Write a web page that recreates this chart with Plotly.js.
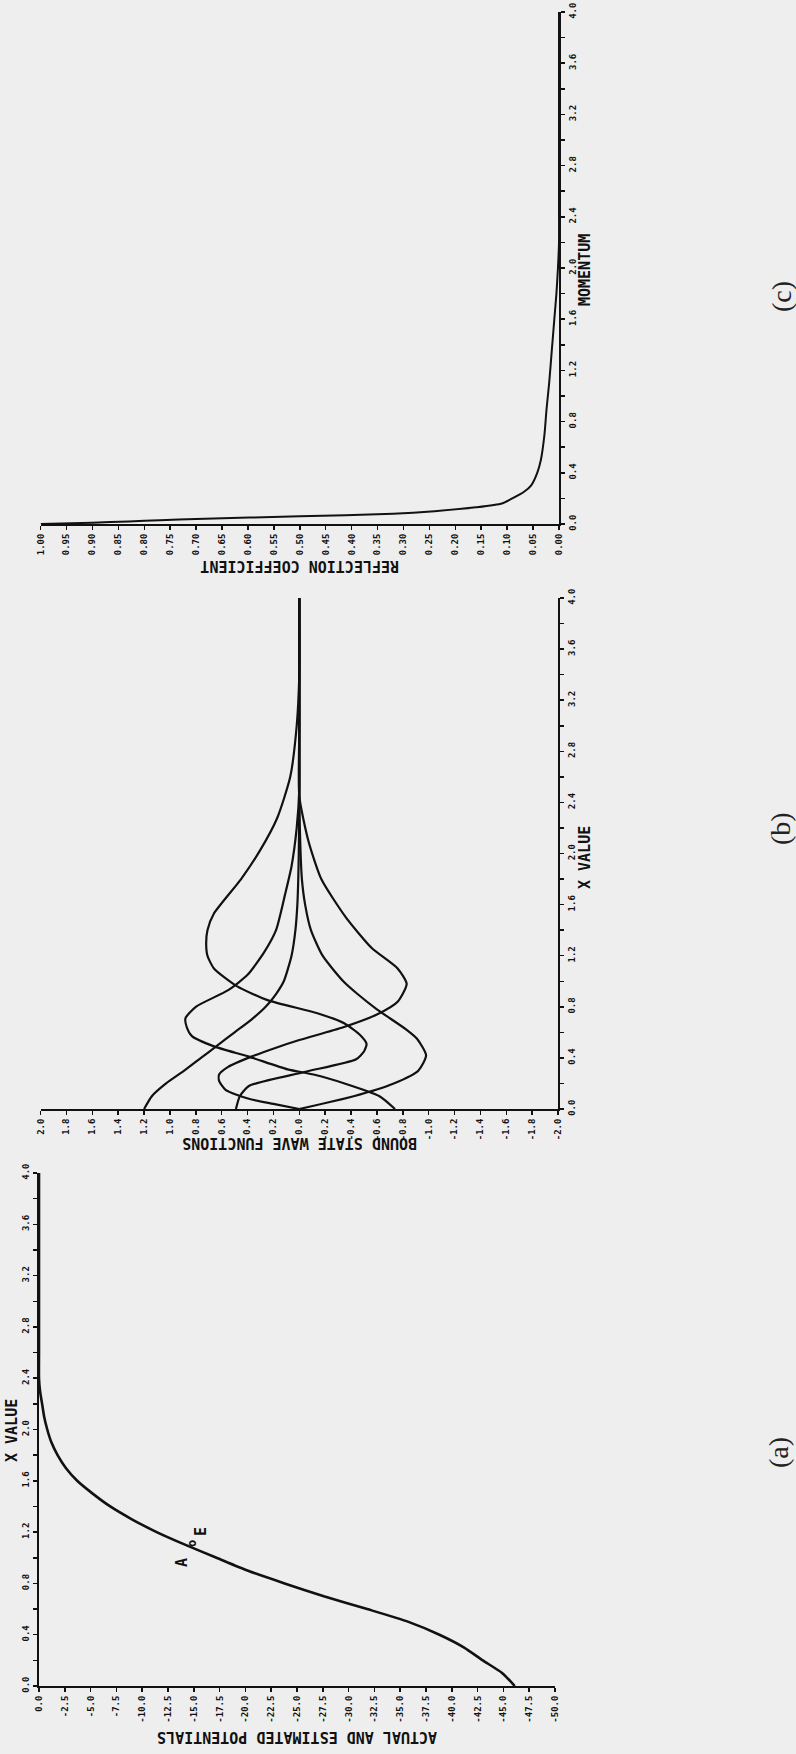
<!DOCTYPE html>
<html>
<head>
<meta charset="utf-8">
<script src="https://cdn.plot.ly/plotly-3.0.1.min.js"></script>
<style>
html,body{margin:0;padding:0;background:#eeeeee;}
#chart{width:796px;height:1754px;}
</style>
</head>
<body>
<div id="chart"></div>
<script>
// ---------- (a) actual and estimated potentials vs x ----------
const xValueA = [0,0.1,0.2,0.3,0.4,0.5,0.6,0.7,0.8,0.9,1.0,1.1,1.2,1.3,1.4,1.5,1.6,1.7,1.8,1.9,2.0,2.1,2.2,2.3,2.4,2.6,3.0,3.5,4.0];
const potentialA = [-46.1,-44.9,-43.0,-41.2,-38.8,-35.8,-31.8,-27.6,-23.8,-20.2,-17.2,-14.2,-11.4,-9.0,-6.9,-5.2,-3.7,-2.6,-1.8,-1.2,-0.8,-0.5,-0.3,-0.1,0,0,0,0,0];
const potTicks = [0,-2.5,-5,-7.5,-10,-12.5,-15,-17.5,-20,-22.5,-25,-27.5,-30,-32.5,-35,-37.5,-40,-42.5,-45,-47.5,-50];
const xTicks = [0,0.2,0.4,0.6,0.8,1.0,1.2,1.4,1.6,1.8,2.0,2.2,2.4,2.6,2.8,3.0,3.2,3.4,3.6,3.8,4.0];

// ---------- (b) bound state wave functions ----------
const xPsi0 = [0,0.1,0.2,0.3,0.4,0.5,0.6,0.7,0.8,0.9,1.0,1.2,1.4,1.6,1.8,2.0,2.4,3.0,4.0];
const psi0  = [1.2,1.14,1.03,0.89,0.76,0.63,0.5,0.37,0.26,0.18,0.12,0.06,0.03,0.015,0.008,0.004,0,0,0];
const xPsi1 = [0,0.1,0.2,0.3,0.42,0.55,0.62,0.78,0.9,1.0,1.2,1.4,1.6,1.8,2.0,2.4,3.0,4.0];
const psi1  = [0,-0.42,-0.73,-0.92,-0.98,-0.91,-0.83,-0.6,-0.45,-0.34,-0.18,-0.09,-0.045,-0.02,-0.01,0,0,0];
const xPsi2 = [0,0.1,0.2,0.27,0.31,0.41,0.49,0.57,0.64,0.71,0.8,0.93,1.05,1.23,1.4,1.68,1.9,2.2,2.5,3.0,4.0];
const psi2  = [-0.74,-0.62,-0.35,-0.11,0.09,0.39,0.66,0.83,0.87,0.88,0.8,0.55,0.4,0.27,0.18,0.11,0.06,0.02,0,0,0];
const xPsi3 = [0,0.04,0.08,0.15,0.22,0.27,0.33,0.41,0.48,0.54,0.64,0.74,0.84,0.98,1.1,1.26,1.5,1.8,2.1,2.45,3.0,4.0];
const psi3  = [0,0.2,0.39,0.57,0.62,0.62,0.55,0.37,0.18,0,-0.34,-0.6,-0.76,-0.83,-0.76,-0.56,-0.36,-0.17,-0.07,0,0,0];
const xPsi4 = [0,0.1,0.18,0.29,0.39,0.45,0.51,0.58,0.67,0.75,0.85,0.96,1.1,1.2,1.3,1.4,1.53,1.8,2.03,2.28,2.6,3.0,3.4,4.0];
const psi4  = [0.49,0.46,0.39,-0.04,-0.44,-0.5,-0.52,-0.47,-0.35,-0.14,0.24,0.48,0.66,0.71,0.72,0.71,0.66,0.45,0.3,0.17,0.07,0.02,0,0];
const waveTicks = [2.0,1.8,1.6,1.4,1.2,1.0,0.8,0.6,0.4,0.2,0.0,-0.2,-0.4,-0.6,-0.8,-1.0,-1.2,-1.4,-1.6,-1.8,-2.0];

// ---------- (c) reflection coefficient vs momentum ----------
const momentum = [0,0.01,0.02,0.03,0.04,0.06,0.08,0.1,0.13,0.16,0.2,0.25,0.3,0.4,0.5,0.7,0.9,1.1,1.35,1.6,1.8,2.0,2.2,2.5,3.0,3.5,4.0];
const reflCoef = [1.0,0.9,0.83,0.77,0.7,0.5,0.32,0.24,0.16,0.11,0.09,0.068,0.054,0.042,0.035,0.028,0.024,0.019,0.014,0.009,0.005,0.002,0,0,0,0,0];
const reflTicks = [1.0,0.95,0.9,0.85,0.8,0.75,0.7,0.65,0.6,0.55,0.5,0.45,0.4,0.35,0.3,0.25,0.2,0.15,0.1,0.05,0.0];
const momTicks = [0,0.2,0.4,0.6,0.8,1.0,1.2,1.4,1.6,1.8,2.0,2.2,2.4,2.6,2.8,3.0,3.2,3.4,3.6,3.8,4.0];

const W = 796, H = 1754;
const px = v => v / W;
const py = v => 1 - v / H;
const ink = '#111111';
const mono = 'DejaVu Sans Mono';
const tickFont = {family: mono, size: 9, color: ink, weight: 'bold'};
const titleFont = {family: mono, size: 15, color: ink, weight: 'bold'};

function evenLabels(vals, dec) {
  return vals.map((v, i) => (i % 2 === 0 ? v.toFixed(dec) : ''));
}
function fmt(v, dec) {
  return Math.abs(v) < 1e-9 ? (0).toFixed(dec) : v.toFixed(dec);
}

const lineStyle = {color: ink, width: 2.2, shape: 'spline', smoothing: 0.6};
function waveTrace(xs, ys) {
  return {x: ys, y: xs, xaxis: 'x2', yaxis: 'y2', mode: 'lines', line: lineStyle, cliponaxis: false};
}

const traces = [
  {x: potentialA, y: xValueA, xaxis: 'x', yaxis: 'y', mode: 'lines', line: Object.assign({}, lineStyle, {width: 2.6}), cliponaxis: false},
  waveTrace(xPsi0, psi0),
  waveTrace(xPsi1, psi1),
  waveTrace(xPsi2, psi2),
  waveTrace(xPsi3, psi3),
  waveTrace(xPsi4, psi4),
  {x: reflCoef, y: momentum, xaxis: 'x3', yaxis: 'y3', mode: 'lines', line: Object.assign({}, lineStyle, {width: 2}), cliponaxis: false}
];

const axisBase = {
  showgrid: false, zeroline: false, showline: true, linecolor: ink, linewidth: 2,
  ticks: 'outside', ticklen: 4, tickwidth: 1.5, tickcolor: ink, tickfont: tickFont,
  tickangle: -90, fixedrange: true, tickmode: 'array'
};

function note(text, x, y, angle, font) {
  return {text: text, x: px(x), y: py(y), xref: 'paper', yref: 'paper', showarrow: false,
          xanchor: 'center', yanchor: 'middle', textangle: angle, font: font};
}
const markFont = {family: mono, size: 15, color: ink, weight: 'bold'};
const panelFont = {family: 'Liberation Serif', size: 28, color: '#222'};

const layout = {
  width: W, height: H,
  margin: {l: 0, r: 0, t: 0, b: 0},
  paper_bgcolor: '#eeeeee', plot_bgcolor: 'rgba(0,0,0,0)',
  showlegend: false,
  xaxis: Object.assign({}, axisBase, {domain: [px(39), px(555)], anchor: 'y', range: [0, -50],
    tickvals: potTicks, ticktext: potTicks.map(v => fmt(v, 1))}),
  yaxis: Object.assign({}, axisBase, {domain: [1 - 1686 / H, 1 - 1173 / H], anchor: 'x', range: [0, 4], side: 'left',
    tickvals: xTicks, ticktext: evenLabels(xTicks, 1)}),
  xaxis2: Object.assign({}, axisBase, {domain: [px(40.6), px(558)], anchor: 'y2', range: [2, -2],
    tickvals: waveTicks, ticktext: waveTicks.map(v => fmt(v, 1))}),
  yaxis2: Object.assign({}, axisBase, {domain: [1 - 1109 / H, 1 - 598 / H], anchor: 'x2', range: [0, 4], side: 'right',
    tickvals: xTicks, ticktext: evenLabels(xTicks, 1)}),
  xaxis3: Object.assign({}, axisBase, {domain: [px(40.6), px(559)], anchor: 'y3', range: [1, 0],
    tickvals: reflTicks, ticktext: reflTicks.map(v => fmt(v, 2))}),
  yaxis3: Object.assign({}, axisBase, {domain: [1 - 524 / H, 1 - 12 / H], anchor: 'x3', range: [0, 4], side: 'right',
    tickvals: momTicks, ticktext: evenLabels(momTicks, 1)}),
  annotations: [
    note('X VALUE', 12, 1431, -90, titleFont),
    note('ACTUAL AND ESTIMATED POTENTIALS', 297, 1737, 180, titleFont),
    note('X VALUE', 585, 858, -90, titleFont),
    note('BOUND STATE WAVE FUNCTIONS', 300, 1143, 180, titleFont),
    note('MOMENTUM', 585, 270, -90, titleFont),
    note('REFLECTION COEFFICIENT', 300, 566, 180, titleFont),
    note('A', 182, 1563, -90, markFont),
    note('E', 201, 1532, -90, markFont),
    note('o', 192, 1544, -90, {family: mono, size: 12, color: ink, weight: 'bold'}),
    note('(a)', 778, 1453, -90, panelFont),
    note('(b)', 780, 829, -90, panelFont),
    note('(c)', 782, 297, -90, panelFont)
  ]
};

Plotly.newPlot('chart', traces, layout, {staticPlot: true, displayModeBar: false});
</script>
</body>
</html>
